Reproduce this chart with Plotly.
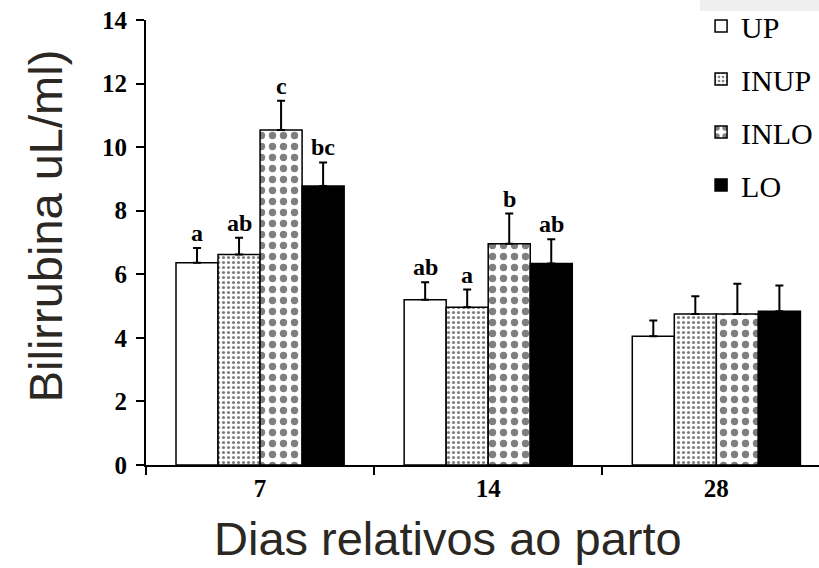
import plotly.graph_objects as go

days = ["7", "14", "28"]
series = ["UP", "INUP", "INLO", "LO"]
means = {
    "UP":   [6.36, 5.20, 4.05],
    "INUP": [6.62, 4.96, 4.75],
    "INLO": [10.54, 6.96, 4.75],
    "LO":   [8.78, 6.34, 4.84],
}
errors = {
    "UP":   [0.47, 0.55, 0.50],
    "INUP": [0.53, 0.56, 0.56],
    "INLO": [0.92, 0.95, 0.95],
    "LO":   [0.74, 0.76, 0.81],
}
letters = {
    "UP":   ["a", "ab", ""],
    "INUP": ["ab", "a", ""],
    "INLO": ["c", "b", ""],
    "LO":   ["bc", "ab", ""],
}
y_ticks = [0, 2, 4, 6, 8, 10, 12, 14]

styles = {
    "UP":   dict(color="white", pattern=None),
    "INUP": dict(color="white", pattern=dict(shape=".", size=5, solidity=0.32, fgcolor="black", bgcolor="white", fillmode="overlay")),
    "INLO": dict(color="white", pattern=dict(shape=".", size=11, solidity=0.35, fgcolor="black", bgcolor="white", fillmode="overlay")),
    "LO":   dict(color="black", pattern=None),
}

serif = "Liberation Serif, Times New Roman, serif"
sans = "Liberation Sans, Arial, sans-serif"
fig = go.Figure()
for i, s in enumerate(series):
    marker = dict(color=styles[s]["color"], line=dict(color="black", width=1.5))
    if styles[s]["pattern"]:
        marker["pattern"] = styles[s]["pattern"]
    fig.add_trace(go.Bar(
        x=days, y=means[s], name=s, marker=marker, legendgroup=s,
        error_y=dict(type="data", array=errors[s], arrayminus=[0]*len(days), symmetric=False,
                     color="black", thickness=2, width=4),
        offsetgroup=s,
    ))

n = len(series)
bargap = 0.263
bw = (1 - bargap) / n
for i, s in enumerate(series):
    for j, d in enumerate(days):
        if letters[s][j]:
            fig.add_annotation(
                x=j - (1 - bargap) / 2 + bw * (i + 0.5), xref="x",
                y=means[s][j] + errors[s][j], yref="y",
                text=letters[s][j], showarrow=False,
                yanchor="bottom", yshift=0,
                font=dict(family=serif, size=24, color="black", weight="bold"),
            )

fig.add_annotation(text="Bilirrubina uL/ml)", xref="paper", yref="paper",
                   x=-0.149, y=0.538, xanchor="center", yanchor="middle", textangle=-90,
                   showarrow=False,
                   font=dict(family=sans, size=47, color="#2b2722"))
fig.add_annotation(text="Dias relativos ao parto", xref="paper", yref="paper",
                   x=0.448, y=-0.165, xanchor="center", yanchor="middle",
                   showarrow=False,
                   font=dict(family=sans, size=47, color="#2b2722"))

fig.add_shape(type="rect", xref="paper", yref="paper", x0=0.823, x1=1.0, y0=1.02, y1=1.045,
              fillcolor="#efefef", line=dict(width=0), layer="below")

fig.update_layout(
    width=819, height=568,
    margin=dict(l=146, r=0, t=20, b=103, autoexpand=False),
    paper_bgcolor="white", plot_bgcolor="white",
    barmode="group", bargap=bargap, bargroupgap=0,
    showlegend=True,
    legend=dict(xref="container", yref="container", x=0.856, y=1.025, xanchor="left", yanchor="top",
                font=dict(family=serif, size=30, color="black"),
                bgcolor="rgba(0,0,0,0)", tracegroupgap=11, itemwidth=30),
    xaxis=dict(type="category", range=[-0.5, 2.45], showline=True, linecolor="black", linewidth=2,
               ticks="outside", tickson="boundaries", ticklen=8, tickwidth=2, tickcolor="black",
               tickfont=dict(family=serif, size=25, color="black", weight="bold"),
               showgrid=False, zeroline=False, automargin=False),
    yaxis=dict(range=[0, 14], tickvals=y_ticks, showline=True, linecolor="black", linewidth=2,
               ticks="outside", ticklen=8, tickwidth=2, tickcolor="black", ticklabelstandoff=4,
               tickfont=dict(family=serif, size=25, color="black", weight="bold"),
               showgrid=False, zeroline=False, automargin=False),
)
fig.write_html("out.html", config={"displayModeBar": False},
               post_script="document.body.style.margin='0';document.body.style.padding='0';")
